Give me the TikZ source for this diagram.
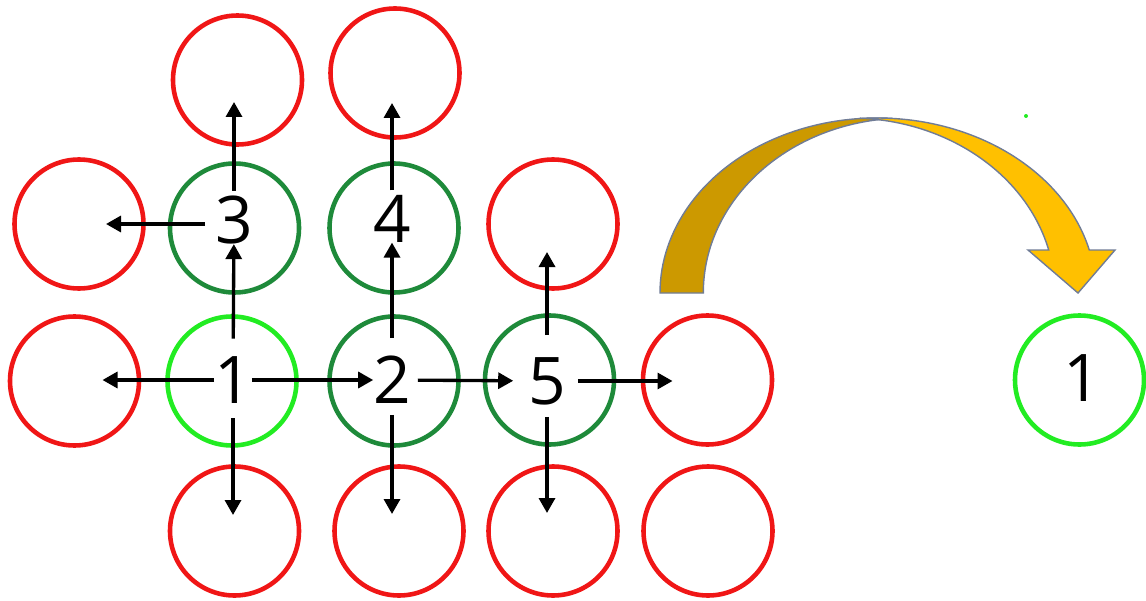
\documentclass[tikz,border=0pt]{standalone}
\usepackage{fontspec}
\setmainfont{Open Sans}
\usetikzlibrary{arrows.meta,calc}

\definecolor{ringred}{RGB}{240,22,22}
\definecolor{ringdark}{RGB}{30,138,58}
\definecolor{ringlight}{RGB}{34,236,34}
\definecolor{goldback}{RGB}{204,153,0}
\definecolor{goldfront}{RGB}{255,192,0}
\definecolor{goldline}{RGB}{112,124,150}

\begin{document}
\begin{tikzpicture}
\tikzset{ring/.style={draw, circle, line width=1.3pt, minimum size=1.29cm, inner sep=0pt, outer sep=0pt}}
\tikzset{digit/.style={inner sep=0pt, outer sep=0pt, font=\fontsize{18.7}{22}\selectfont}}
\tikzset{move/.style={line width=0.95pt, -{Triangle[length=0.15cm,width=0.16cm]}}}
\useasboundingbox (0,0) rectangle (11.46,6.00);

% visited cells
\node[ring, draw=ringlight] (C1) at (2.32,2.19) {};
\node[ring, draw=ringdark] (C2) at (3.94,2.19) {};
\node[ring, draw=ringdark] (C3) at (2.345,3.72) {};
\node[ring, draw=ringdark] (C4) at (3.94,3.72) {};
\node[ring, draw=ringdark] (C5) at (5.495,2.20) {};

% open neighbours
\node[ring, draw=ringred] (up3) at (2.375,5.20) {};
\node[ring, draw=ringred] (up4) at (3.95,5.27) {};
\node[ring, draw=ringred] (left3) at (0.79,3.76) {};
\node[ring, draw=ringred] (up5) at (5.53,3.76) {};
\node[ring, draw=ringred] (left1) at (0.745,2.19) {};
\node[ring, draw=ringred] (right5) at (7.075,2.20) {};
\node[ring, draw=ringred] (down1) at (2.345,0.69) {};
\node[ring, draw=ringred] (down2) at (3.99,0.69) {};
\node[ring, draw=ringred] (down5) at (5.53,0.69) {};
\node[ring, draw=ringred] (corner) at (7.08,0.69) {};

\node[digit] (s1) at (2.33,2.20) {1};
\node[digit] (s2) at (3.92,2.20) {2};
\node[digit] (s3) at (2.34,3.80) {3};
\node[digit] (s4) at (3.92,3.81) {4};
\node[digit] (s5) at (5.47,2.19) {5};

\draw[move] (s1) -- (s2);
\draw[move, shorten >=0.28cm] (s1) -- (s1 -| left1);
\draw[move, shorten <=0.18cm] (s1) -- (s3);
\draw[move, shorten <=0.15cm, shorten >=0.16cm] (s1) -- (s1 |- down1);

\draw[move, shorten <=0.18cm] (s2) -- (s4);
\draw[move, shorten <=0.11cm, shorten >=0.17cm] (s2) -- (s2 |- down2);
\draw[move, shorten <=0.07cm, shorten >=0.15cm] (s2) -- (s5);

\draw[move, shorten <=0.22cm, shorten >=0.28cm] (s5) -- (s5 |- up5);
\draw[move, shorten <=0.12cm, shorten >=0.35cm] (s5) -- (s5 -| right5);
\draw[move, shorten <=0.12cm, shorten >=0.18cm] (s5) -- (s5 |- down5);

\draw[move, shorten <=0.05cm, shorten >=0.22cm] (s3) -- (s3 |- up3);
\draw[move, shorten <=0.10cm, shorten >=0.27cm] (s3.west |- left3.center) -- (left3.center);
\draw[move, shorten <=0.05cm, shorten >=0.30cm] (s4) -- (s4 |- up4);

% the bent arrow, back half first
\coordinate (bend) at (8.77,3.07);
\filldraw[fill=goldback, draw=goldline, line width=0.4pt] ($(bend)+(-2.17,0)$) arc[start angle=180, end angle=86, x radius=2.17, y radius=1.75] arc[start angle=94, end angle=180, x radius=2.03, y radius=1.75] -- cycle;
\filldraw[fill=goldfront, draw=goldline, line width=0.4pt] ($(bend)+(93.64:2.19 and 1.75)$) arc[start angle=93.64, end angle=14.22, x radius=2.19, y radius=1.75] -- ($(bend)+(2.38,0.43)$) -- ($(bend)+(2.01,0)$) -- ($(bend)+(1.51,0.43)$) -- ($(bend)+(1.717,0.43)$) arc[start angle=14.22, end angle=86.34, x radius=2.05, y radius=1.75] -- cycle;
\fill[ringlight] (10.26,4.84) circle (0.02);

\node[ring, draw=ringlight] (F1) at (10.795,2.20) {};
\node[digit] (f1) at (10.82,2.22) {1};
\end{tikzpicture}
\end{document}
